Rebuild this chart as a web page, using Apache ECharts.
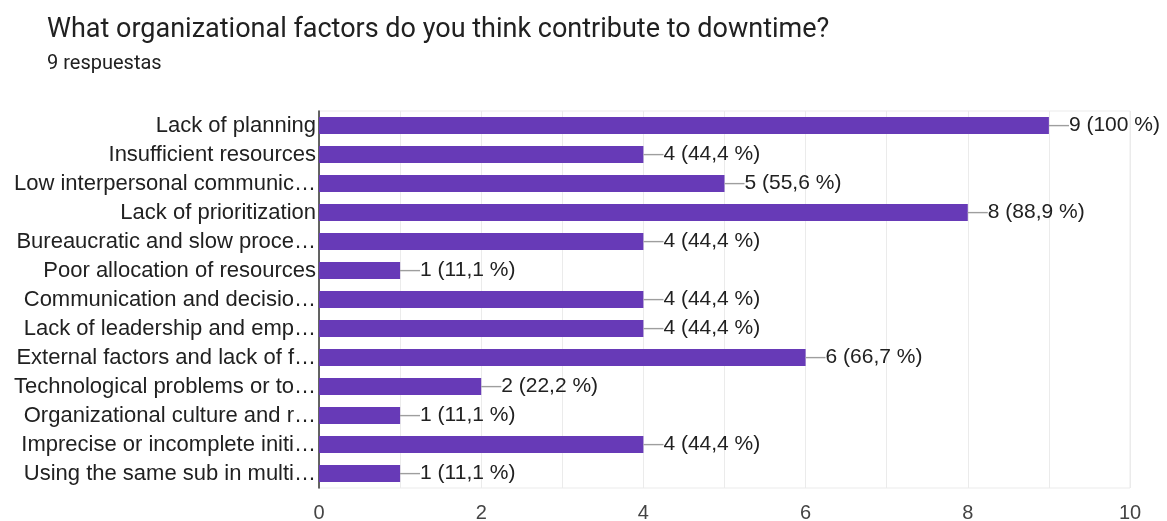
<!DOCTYPE html>
<html>
<head>
<meta charset="utf-8">
<script src="https://cdn.jsdelivr.net/npm/echarts@6/dist/echarts.min.js"></script>
<style>
  html, body { margin: 0; padding: 0; background: #fff; }
  #chart { width: 1167px; height: 521px; }
</style>
</head>
<body>
<div id="chart"></div>
<script>
const titleText = 'What organizational factors do you think contribute to downtime?';
const subText = '9 respuestas';

const categories = [
  'Lack of planning',
  'Insufficient resources',
  'Low interpersonal communic\u2026',
  'Lack of prioritization',
  'Bureaucratic and slow proce\u2026',
  'Poor allocation of resources',
  'Communication and decisio\u2026',
  'Lack of leadership and emp\u2026',
  'External factors and lack of f\u2026',
  'Technological problems or to\u2026',
  'Organizational culture and r\u2026',
  'Imprecise or incomplete initi\u2026',
  'Using the same sub in multi\u2026'
];
const counts = [9, 4, 5, 8, 4, 1, 4, 4, 6, 2, 1, 4, 1];
const percentLabels = ['100', '44,4', '55,6', '88,9', '44,4', '11,1', '44,4', '44,4', '66,7', '22,2', '11,1', '44,4', '11,1'];

const chart = echarts.init(document.getElementById('chart'));

let option = {
  backgroundColor: '#fff',
  textStyle: { fontFamily: 'Liberation Sans' },
  title: {
    text: titleText,
    subtext: subText,
    left: 42,
    top: 12,
    itemGap: 10,
    textStyle: { fontSize: 27, fontWeight: 'normal', color: '#212121', fontFamily: 'Roboto' },
    subtextStyle: { fontSize: 20, color: '#212121', fontFamily: 'Roboto' }
  },
  grid: {
    left: 319,
    right: 37,
    top: 111,
    bottom: 33,
    outerBoundsMode: 'none',
    show: true,
    borderColor: '#ebebeb',
    borderWidth: 1
  },
  xAxis: {
    type: 'value',
    min: 0,
    max: 10,
    interval: 2,
    axisLine: { show: false },
    axisTick: { show: false },
    axisLabel: { color: '#444', fontSize: 20, margin: 15, fontFamily: 'Liberation Sans' },
    splitLine: { show: true, lineStyle: { color: '#ebebeb', width: 1 } },
    minorTick: { show: false, splitNumber: 2 },
    minorSplitLine: { show: true, lineStyle: { color: '#ebebeb', width: 1 } }
  },
  yAxis: {
    type: 'category',
    inverse: true,
    data: categories,
    axisLine: { show: true, lineStyle: { color: '#333', width: 1.5 } },
    axisTick: { show: false },
    axisLabel: { color: '#212121', fontSize: 22, margin: 3, fontFamily: 'Liberation Sans' }
  },
  series: [{
    type: 'bar',
    data: counts,
    barWidth: 17,
    itemStyle: { color: '#673ab7' },
    animation: false,
    label: {
      show: true,
      position: 'right',
      distance: 0,
      formatter: p => '{l|\u2014}{v|' + p.value + ' (' + percentLabels[p.dataIndex] + ' %)}',
      rich: {
        l: { color: '#9e9e9e', fontSize: 20, fontFamily: 'Liberation Sans' },
        v: { color: '#212121', fontSize: 21, fontFamily: 'Liberation Sans' }
      }
    }
  }]
};

chart.setOption(option);
</script>
</body>
</html>
